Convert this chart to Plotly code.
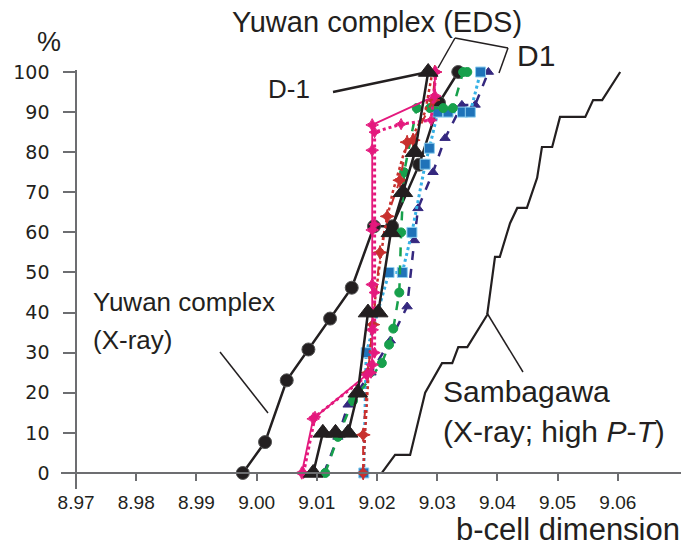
import plotly.graph_objects as go

# ---------------- data ----------------
yuwan_xray_x = [8.9977, 9.0014, 9.0050, 9.0086, 9.0122, 9.0158, 9.0195, 9.0225, 9.0270, 9.0303, 9.0335]
yuwan_xray_y = [0, 7.7, 23.1, 30.8, 38.5, 46.2, 61.5, 61.5, 76.9, 92.3, 100]

d1_x = [9.0094, 9.0110, 9.0131, 9.0152, 9.0168, 9.0185, 9.0202, 9.0223, 9.0243, 9.0263, 9.0285]
d1_y = [0, 10, 10, 10, 20, 40, 40, 60, 70, 80, 100]

pink_solid_x = [9.0075, 9.0094, 9.0183, 9.0192, 9.0192, 9.0192, 9.0192, 9.0192, 9.0192, 9.0296, 9.0296]
pink_solid_y = [0, 13.5, 24.5, 27, 35.7, 47, 60.6, 80.5, 86.8, 94, 100]

pink_dot_x = [9.0078, 9.0097, 9.0190, 9.0196, 9.0196, 9.0196, 9.0196, 9.0240, 9.0290, 9.0298]
pink_dot_y = [0, 14, 25, 30, 45, 62, 85, 87, 88, 100]

red_dash_x = [9.0177, 9.0177, 9.0185, 9.0193, 9.0205, 9.0217, 9.0238, 9.0250, 9.0260, 9.0293, 9.0296]
red_dash_y = [0, 9.5, 25, 37, 55, 64, 73, 82.5, 83, 93, 100]

red_dot_x = [9.0177, 9.0180, 9.0188, 9.0198, 9.0212, 9.0226, 9.0245, 9.0280, 9.0292]
red_dot_y = [0, 9.5, 30, 45, 60, 70, 80, 90, 100]

green_x = [9.0114, 9.0135, 9.0160, 9.0208, 9.0220, 9.0227, 9.0237, 9.0240, 9.0245, 9.0266, 9.0288, 9.0310, 9.0326, 9.0343, 9.0350]
green_y = [0, 9, 18, 27.4, 32, 36, 45, 60, 75, 91, 91, 91, 91, 100, 100]

blue_x = [9.0178, 9.0182, 9.0220, 9.0242, 9.0258, 9.0280, 9.0287, 9.0301, 9.0318, 9.0342, 9.0355, 9.0372]
blue_y = [0, 30, 50, 50, 60, 77, 81, 90, 90, 90, 90, 100]

purple_x = [9.0112, 9.0135, 9.0152, 9.0190, 9.0222, 9.0250, 9.0262, 9.0268, 9.0293, 9.0313, 9.0341, 9.0363, 9.0385]
purple_y = [0, 9, 17, 25, 33, 41.5, 58, 66, 75, 83.5, 91.8, 91.8, 100]

samba_x = [9.0208, 9.0230, 9.0255, 9.0280, 9.0308, 9.0325, 9.0335, 9.0350, 9.0383, 9.0396, 9.0404,
           9.0421, 9.0433, 9.0449, 9.0466, 9.0474, 9.0491, 9.0504, 9.0546, 9.0559, 9.0574, 9.0604]
samba_y = [0, 4.5, 4.5, 20, 27.4, 27.4, 31.4, 31.4, 39.4, 53.9, 53.9,
           62.3, 66.1, 66.1, 73.6, 81.3, 81.3, 88.8, 88.8, 93, 93, 100]

x_ticks = [8.97, 8.98, 8.99, 9.00, 9.01, 9.02, 9.03, 9.04, 9.05, 9.06]
x_tick_text = ["8.97", "8.98", "8.99", "9.00", "9.01", "9.02", "9.03", "9.04", "9.05", "9.06"]
y_ticks = [0, 10, 20, 30, 40, 50, 60, 70, 80, 90, 100]

# ---------------- styling ----------------
BLACK = "#231f20"
PINK = "#e4197d"
RED = "#c8302e"
GREEN = "#17a04c"
LBLUE = "#36b1e6"
SQBLUE = "#1f73b9"
PURPLE = "#35287f"

W, H = 682, 549
ML, MR, MT, MB = 61, 1, 70, 60
X0, X1 = 8.9675, 9.0705
Y0, Y1 = -4, 100.5

def PX(px):
    return (px - ML) / (W - ML - MR)

def PY(py):
    return (H - MB - py) / (H - MT - MB)

fig = go.Figure()

def add(x, y, color, dash, width, symbol, size, mcolor=None, mline=None, markers=True):
    fig.add_trace(go.Scatter(
        x=x, y=y, mode="lines+markers" if markers else "lines",
        line=dict(color=color, dash=dash, width=width),
        marker=dict(symbol=symbol, size=size, color=mcolor or color,
                    line=dict(color=mline or (mcolor or color), width=1)),
        cliponaxis=False, showlegend=False, hoverinfo="x+y"))

add(samba_x, samba_y, BLACK, "solid", 2.2, "circle", 1, markers=False)
add(yuwan_xray_x, yuwan_xray_y, BLACK, "solid", 2.5, "circle", 13, mline="#555")
add(purple_x, purple_y, PURPLE, "dash", 2.5, "triangle-up", 9)
add(blue_x, blue_y, LBLUE, "dot", 3, "square", 10, mcolor=SQBLUE, mline="#8fd0f0")
add(green_x, green_y, GREEN, "dash", 2.5, "circle", 9)
add(red_dot_x, red_dot_y, RED, "dot", 2.5, "circle", 1, markers=False)
add(red_dash_x, red_dash_y, RED, "dash", 2, "star-diamond", 10)
add(pink_dot_x, pink_dot_y, PINK, "dot", 3, "star-diamond", 8)
add(pink_solid_x, pink_solid_y, PINK, "solid", 1.8, "star-diamond", 9)
add(d1_x, d1_y, BLACK, "solid", 2.5, "triangle-up", 17)

AX = "#6d6e71"
fig.update_layout(
    width=W, height=H,
    margin=dict(l=ML, r=MR, t=MT, b=MB),
    paper_bgcolor="white", plot_bgcolor="white",
    font=dict(family="Liberation Sans, Arial, sans-serif", color=BLACK),
    xaxis=dict(range=[X0, X1], tickvals=x_ticks, ticktext=x_tick_text,
               showgrid=False, zeroline=False, showline=True, linecolor=AX, linewidth=1.5,
               ticks="outside", ticklen=7, tickwidth=1.5, tickcolor=AX,
               anchor="free", position=(0 - Y0) / (Y1 - Y0),
               ticklabelstandoff=5,
               tickfont=dict(family="Liberation Sans, Arial, sans-serif",
                             size=19, color=BLACK)),
    yaxis=dict(range=[Y0, Y1], tickvals=y_ticks,
               showgrid=False, zeroline=False, showline=True, linecolor=AX, linewidth=1.5,
               ticks="outside", ticklen=12, tickwidth=1.5, tickcolor=AX,
               anchor="free", position=(8.97 - X0) / (X1 - X0),
               ticklabelstandoff=10,
               tickfont=dict(family="DejaVu Sans, sans-serif", size=19, color=BLACK)),
)

def txt(s, px, py, size=27, xanchor="left", yanchor="middle", pad=1):
    fig.add_annotation(text=s, x=PX(px), y=PY(py), xref="paper", yref="paper",
                       xanchor=xanchor, yanchor=yanchor, showarrow=False, borderpad=pad,
                       font=dict(size=size, color=BLACK))

def seg(p0, p1, width=1.5):
    fig.add_shape(type="line", xref="paper", yref="paper",
                  x0=PX(p0[0]), y0=PY(p0[1]), x1=PX(p1[0]), y1=PY(p1[1]),
                  line=dict(color=BLACK, width=width))

txt("%", 35, 42, size=27)
txt("Yuwan complex (EDS)", 230, 22, size=29)
txt("D1", 515, 55, size=30)
txt("D-1", 266, 89, size=26)
txt("Yuwan complex", 91, 302, size=26)
txt("(X-ray)", 91, 340, size=26)
txt("Sambagawa", 441, 391, size=30)
txt("(X-ray; high <i>P</i>-<i>T</i>)", 441, 431, size=30)
txt("b-cell dimension", 681, 548, size=31, xanchor="right", yanchor="bottom", pad=0)

seg((333, 92), (428, 72), width=2.5)
seg((220, 352), (268, 413))
seg((523, 372), (487, 313))
seg((455, 38), (438, 68))
seg((455, 38), (508, 48))
seg((508, 48), (499, 73))

fig.write_html("out.html")
